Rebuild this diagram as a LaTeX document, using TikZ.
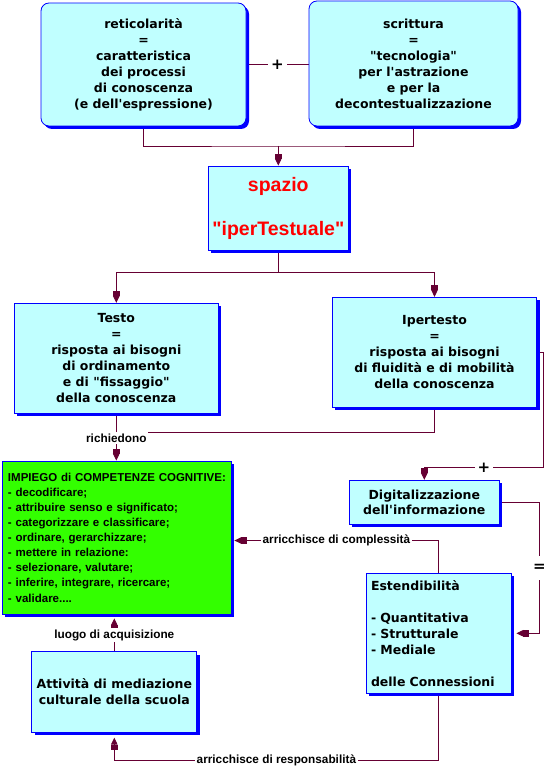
\documentclass[tikz,border=0pt]{standalone}
\usepackage{fontspec}
\usetikzlibrary{arrows.meta,shadows,backgrounds}
\newfontfamily\boxfont{DejaVu Sans}
\newfontfamily\lblfont{Liberation Sans}
\definecolor{boxcyan}{HTML}{C0FFFF}
\definecolor{boxblue}{HTML}{0000FF}
\definecolor{linkred}{HTML}{660033}
\definecolor{impgreen}{HTML}{33FF00}
\tikzset{
	concept/.style={rectangle, draw=boxblue, line width=0.8pt, fill=boxcyan, align=center, inner sep=0pt,
		font=\boxfont\bfseries\fontsize{12.5}{16}\selectfont,
		drop shadow={shadow xshift=3pt, shadow yshift=-3pt, fill=boxblue, opacity=1}},
	link/.style={draw=linkred, line width=0.9pt},
	lead/.style={link, -{Rectangle[width=6.5pt,length=5pt,sep=0pt] Triangle[width=6.5pt,length=7pt,sep=0pt]}},
	linklabel/.style={fill=white, inner sep=1.5pt, font=\lblfont\bfseries\fontsize{11.8}{14}\selectfont},
	joinsign/.style={fill=white, inner sep=3pt, font=\boxfont\bfseries\fontsize{15}{16}\selectfont}
}

\begin{document}
\begin{tikzpicture}[x=1pt, y=-1pt]
		\useasboundingbox (0,0) rectangle (547,770);
		%%%%% BOXES %%%%%
		
		\node[concept, rounded corners=8pt, minimum width=205pt, minimum height=123pt] (retic) at (143.5,64.5)
			{reticolarità\\=\\caratteristica\\dei processi\\di conoscenza\\(e dell\textquotesingle espressione)};
		\node[concept, rounded corners=8pt, minimum width=209pt, minimum height=125pt] (scritt) at (413.5,63.5)
			{scrittura\\=\\"tecnologia"\\per l\textquotesingle astrazione\\e per la\\decontestualizzazione};
		
		\node[concept, minimum width=140pt, minimum height=84pt, text=red,
			font=\lblfont\bfseries\fontsize{19.5}{22}\selectfont] (spazio) at (278.3,208)
			{spazio\\[22pt]"iperTestuale"};
		
		\node[concept, minimum width=204pt, minimum height=110pt] (testo) at (116.3,358.3)
			{Testo\\=\\risposta ai bisogni\\di ordinamento\\e di "fissaggio"\\della conoscenza};
		\node[concept, minimum width=204.5pt, minimum height=110pt] (ipertesto) at (434.5,352.3)
			{Ipertesto\\=\\risposta ai bisogni\\di fluidità e di mobilità\\della conoscenza};
		
		\node[concept, fill=impgreen, align=left, text width=217pt, inner xsep=6pt, minimum height=153pt,
			font=\lblfont\bfseries\fontsize{11.5}{15.1}\selectfont] (impiego) at (116.5,537.5)
			{\mbox{IMPIEGO di COMPETENZE COGNITIVE:}\\- decodificare;\\- attribuire senso e significato;\\- categorizzare e classificare;\\- ordinare, gerarchizzare;\\- mettere in relazione:\\- selezionare, valutare;\\- inferire, integrare, ricercare;\\- validare....};
		
		\node[concept, minimum width=150pt, minimum height=44pt,
			font=\boxfont\bfseries\fontsize{12.5}{15}\selectfont] (digital) at (424.3,502.3)
			{Digitalizzazione\\dell\textquotesingle informazione};
		\node[concept, align=left, text width=135pt, inner xsep=5pt, minimum height=120pt] (estend) at (438.5,633.3)
			{Estendibilità\\[16pt]- Quantitativa\\- Strutturale\\- Mediale\\[16pt]delle Connessioni};
		
		\node[concept, minimum width=165pt, minimum height=80.5pt] (attivita) at (114.3,692)
			{Attività di mediazione\\culturale della scuola};
		
		%%%%% CONNECTIONS %%%%%
		\begin{scope}[on background layer]
			\coordinate (upjoin) at (spazio.north |- 0,146);
			\draw[link] (retic.south) |- (upjoin) -| (scritt.south);
			\draw[lead] (upjoin) -- (spazio.north);
			\draw[link] (retic.east) -- node[joinsign]{+} (retic.east -| scritt.west);
			
			\coordinate (midjoin) at (spazio.south |- 0,272);
			\draw[link] (spazio.south) -- (midjoin);
			\draw[lead] (midjoin) -| (testo.north);
			\draw[lead] (midjoin) -| (ipertesto.north);
			
			\coordinate (lowjoin) at (testo.south |- 0,432);
			\draw[link] (ipertesto.south) |- (lowjoin);
			\draw[lead] (testo.south) -- node[linklabel, pos=0.52]{richiedono} (testo.south |- impiego.north);
			
			\coordinate (rightbend) at (543.3,467.3);
			\draw[lead] (ipertesto.east) -| (rightbend) -- node[joinsign]{+} (rightbend -| digital.north) -- (digital.north);
			
			\coordinate (eqbend) at (539.3,633.3);
			\draw[lead] (digital.east) -| node[joinsign, pos=0.75, minimum height=24pt]{=} (eqbend) -- ([xshift=5pt]estend.east);
			
			\draw[lead] (estend.north) |- node[linklabel, pos=0.75]{arricchisce di complessità} ([xshift=3pt, yshift=-3pt]impiego.east);
			\draw[lead] (attivita.north) -- node[linklabel, pos=0.49]{luogo di acquisizione} ([yshift=-4pt]attivita.north |- impiego.south);
			\draw[lead] (estend.south) |- node[linklabel, pos=0.75]{arricchisce di responsabilità} (attivita.south |- 0,760) -- ([yshift=-5pt]attivita.south);
		\end{scope}
		
	\end{tikzpicture}
\end{document}
